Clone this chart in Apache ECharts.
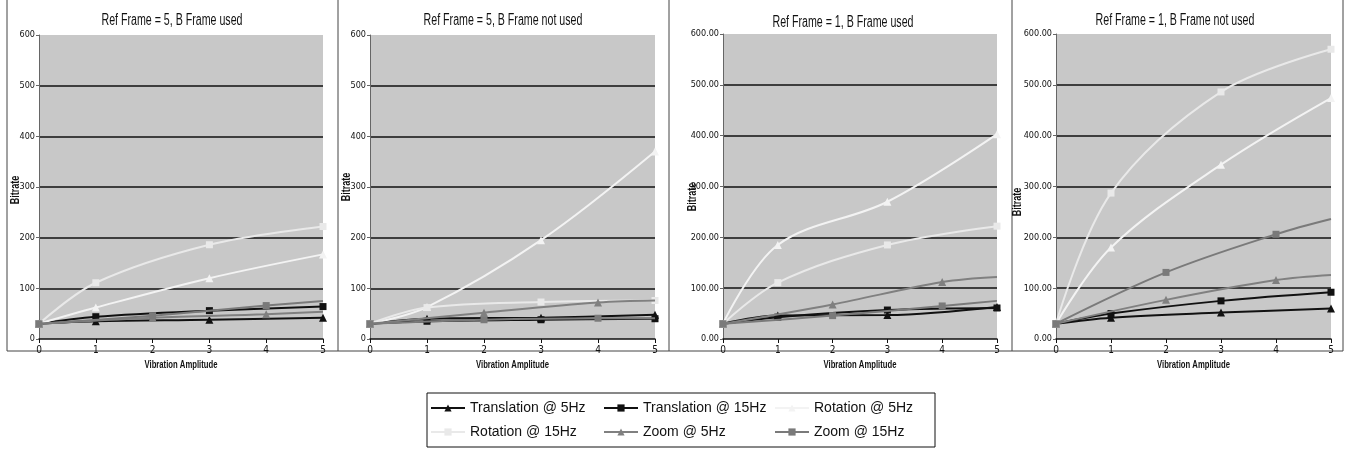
<!DOCTYPE html>
<html>
<head>
<meta charset="utf-8">
<title>Bitrate vs Vibration Amplitude</title>
<script src="https://cdn.jsdelivr.net/npm/echarts@6/dist/echarts.min.js"></script>
<style>
  html, body { margin: 0; padding: 0; background: #fff; }
  #chart { width: 1345px; height: 450px; }
</style>
</head>
<body>
<div id="chart"></div>
<script>
// x positions of the measurements
const ampMotion = [0, 1, 3, 5];   // translation + rotation runs
const ampZoom = [0, 2, 4, 5];     // zoom runs (no marker drawn at 5)

const panelTitles = [
  'Ref Frame = 5, B Frame used',
  'Ref Frame = 5, B Frame not used',
  'Ref Frame = 1, B Frame used',
  'Ref Frame = 1, B Frame not used'
];
const yTickDecimals = [0, 0, 2, 2];

const seriesNames = [
  'Translation @ 5Hz', 'Translation @ 15Hz', 'Rotation @ 5Hz',
  'Rotation @ 15Hz', 'Zoom @ 5Hz', 'Zoom @ 15Hz'
];

// one row per panel
const translation5 = [[30, 35, 38, 42], [30, 40, 42, 48], [30, 46, 47, 63], [30, 42, 52, 60]];
const translation15 = [[30, 44, 56, 64], [30, 35, 38, 40], [30, 43, 57, 61], [30, 50, 75, 92]];
const rotation5 = [[30, 62, 120, 167], [30, 63, 195, 370], [30, 185, 270, 403], [30, 180, 343, 474]];
const rotation15 = [[30, 111, 186, 222], [30, 62, 73, 76], [30, 111, 185, 222], [30, 287, 486, 570]];
const zoom5 = [[30, 42, 49, 54], [30, 52, 72, 76], [30, 68, 112, 122], [30, 77, 116, 126]];
const zoom15 = [[30, 46, 66, 75], [30, 38, 41, 41], [30, 46, 65, 75], [30, 131, 206, 236]];

const seriesStyle = [
  { color: '#111111', symbol: 'triangle', size: 8 },
  { color: '#111111', symbol: 'rect', size: 7 },
  { color: '#f3f3f3', symbol: 'triangle', size: 8 },
  { color: '#e9e9e9', symbol: 'rect', size: 7 },
  { color: '#808080', symbol: 'triangle', size: 8 },
  { color: '#7a7a7a', symbol: 'rect', size: 7 }
];
const seriesValues = [translation5, translation15, rotation5, rotation15, zoom5, zoom15];

const grids = [
  { left: 39, top: 35, width: 284, height: 304 },
  { left: 370, top: 35, width: 285, height: 304 },
  { left: 723, top: 34, width: 274, height: 305 },
  { left: 1056, top: 34, width: 275, height: 305 }
];
// positions of the squeezed text pieces
const titlePos = [[172, 21], [503, 21], [843, 23], [1175, 21]];
const yNamePos = [[16, 190], [347, 187], [693, 197], [1018, 202]];
const xNameY = 365;

const narrow = "'DejaVu Sans Condensed', 'Liberation Sans', Arial, sans-serif";
const arial = "'Liberation Sans', Arial, sans-serif";

const chart = echarts.init(document.getElementById('chart'));

const series = [];
seriesValues.forEach(function (values, s) {
  const st = seriesStyle[s];
  const xs = s >= 4 ? ampZoom : ampMotion;
  values.forEach(function (row, p) {
    series.push({
      name: seriesNames[s],
      type: 'line',
      xAxisIndex: p,
      yAxisIndex: p,
      smooth: 0.35,
      symbol: st.symbol,
      symbolSize: st.size,
      clip: true,
      z: 3 + s,
      lineStyle: { color: st.color, width: 2 },
      itemStyle: { color: st.color },
      data: row.map(function (v, i) {
        if (s >= 4 && i === row.length - 1) {
          return { value: [xs[i], v], symbol: 'none' };
        }
        return [xs[i], v];
      }),
      animation: false
    });
  });
});

const legendCols = [
  { left: 430, names: ['Translation @ 5Hz', 'Rotation @ 15Hz'] },
  { left: 603, names: ['Translation @ 15Hz', 'Zoom @ 5Hz'] },
  { left: 774, names: ['Rotation @ 5Hz', 'Zoom @ 15Hz'] }
];

// frames and squeezed labels (the source picture is horizontally compressed)
const graphics = [
  { type: 'rect', shape: { x: 7, y: -2, width: 1336, height: 353 }, style: { fill: null, stroke: '#444', lineWidth: 1 }, silent: true },
  { type: 'line', shape: { x1: 338, y1: 0, x2: 338, y2: 351 }, style: { stroke: '#444', lineWidth: 1 }, silent: true },
  { type: 'line', shape: { x1: 669, y1: 0, x2: 669, y2: 351 }, style: { stroke: '#444', lineWidth: 1 }, silent: true },
  { type: 'line', shape: { x1: 1012, y1: 0, x2: 1012, y2: 351 }, style: { stroke: '#444', lineWidth: 1 }, silent: true },
  { type: 'rect', shape: { x: 427, y: 393, width: 508, height: 54 }, style: { fill: null, stroke: '#111', lineWidth: 1 }, silent: true }
];
panelTitles.forEach(function (t, p) {
  graphics.push({
    type: 'text', x: titlePos[p][0], y: titlePos[p][1], scaleX: 0.665, silent: true,
    style: { text: t, font: '16px ' + arial, fill: '#111', textAlign: 'center', textVerticalAlign: 'middle' }
  });
  graphics.push({
    type: 'text', x: grids[p].left + grids[p].width / 2, y: xNameY, scaleX: 0.7, silent: true,
    style: { text: 'Vibration Amplitude', font: 'bold 11px ' + arial, fill: '#111', textAlign: 'center', textVerticalAlign: 'middle' }
  });
  graphics.push({
    type: 'text', x: yNamePos[p][0], y: yNamePos[p][1], rotation: Math.PI / 2, scaleX: 0.75, silent: true,
    style: { text: 'Bitrate', font: 'bold 12px ' + arial, fill: '#111', textAlign: 'center', textVerticalAlign: 'middle' }
  });
});

const option = {
  backgroundColor: '#ffffff',
  animation: false,
  legend: legendCols.map(function (c) {
    return {
      data: c.names,
      orient: 'vertical',
      left: c.left,
      top: 401,
      padding: 0,
      itemWidth: 34,
      itemHeight: 9,
      itemGap: 10,
      textStyle: { fontFamily: arial, fontSize: 14, color: '#111' }
    };
  }),
  grid: grids.map(function (g) {
    return Object.assign({ show: true, backgroundColor: '#c8c8c8', borderWidth: 0 }, g);
  }),
  xAxis: grids.map(function (g, p) {
    return {
      type: 'value',
      gridIndex: p,
      min: 0,
      max: 5,
      interval: 1,
      axisLine: { show: true, onZero: false, lineStyle: { color: '#111', width: 1.5 } },
      axisTick: { show: true, length: 4, lineStyle: { color: '#111' } },
      axisLabel: { margin: 6, fontFamily: narrow, fontSize: 10, color: '#111' },
      splitLine: { show: false }
    };
  }),
  yAxis: grids.map(function (g, p) {
    return {
      type: 'value',
      gridIndex: p,
      min: 0,
      max: 600,
      interval: 100,
      axisLine: { show: true, lineStyle: { color: '#666', width: 1 } },
      axisTick: { show: true, length: 3, lineStyle: { color: '#666' } },
      axisLabel: {
        margin: 4,
        fontFamily: narrow,
        fontSize: 9,
        color: '#111',
        formatter: function (v) { return v.toFixed(yTickDecimals[p]); }
      },
      splitLine: {
        show: true,
        showMinLine: false,
        showMaxLine: false,
        lineStyle: { color: '#111', width: 1.5 }
      }
    };
  }),
  graphic: graphics,
  series: series
};

chart.setOption(option);
</script>
</body>
</html>
